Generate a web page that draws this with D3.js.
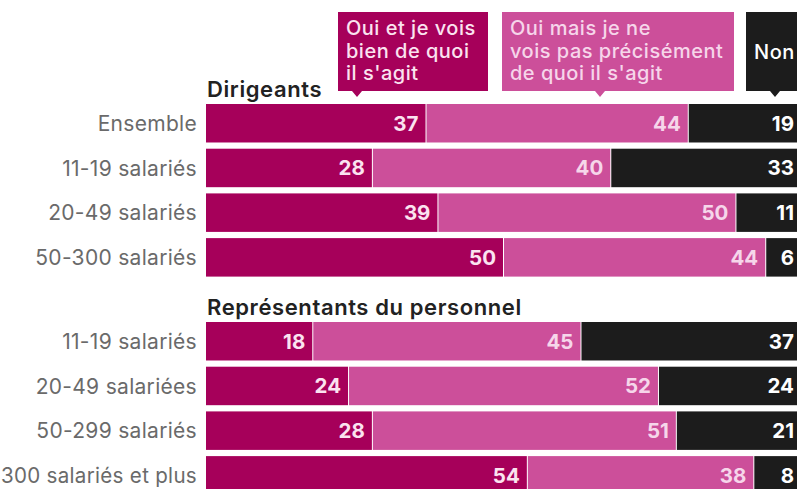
<!DOCTYPE html>
<html>
<head>
<meta charset="utf-8">
<script src="https://cdn.jsdelivr.net/npm/d3@7"></script>
<style>
  html, body { margin: 0; padding: 0; background: #ffffff; }
  svg { display: block; font-family: Inter, "Noto Sans", sans-serif; }
</style>
</head>
<body>
<svg id="chart" width="797" height="489"></svg>
<script>
// Answer categories
const answers = ["Oui et je vois bien de quoi il s'agit", "Oui mais je ne vois pas précisément de quoi il s'agit", "Non"];
const legendLines = [
  ["Oui et je vois", "bien de quoi", "il s'agit"],
  ["Oui mais je ne", "vois pas précisément", "de quoi il s'agit"],
  ["Non"]
];

// Dirigeants
const groupTitle1 = "Dirigeants";
const rows1 = ["Ensemble", "11-19 salariés", "20-49 salariés", "50-300 salariés"];
const oui1  = [37, 28, 39, 50];
const mais1 = [44, 40, 50, 44];
const non1  = [19, 33, 11, 6];

// Représentants du personnel
const groupTitle2 = "Représentants du personnel";
const rows2 = ["11-19 salariés", "20-49 salariées", "50-299 salariés", "300 salariés et plus"];
const oui2  = [18, 24, 28, 54];
const mais2 = [45, 52, 51, 38];
const non2  = [37, 24, 21, 8];

const colors = ["#a6005a", "#cc4f9a", "#1c1c1c"];
const labelColors = ["#fbe3f0", "#f6d6ea", "#ffffff"];

const svg = d3.select("#chart");
const x = d3.scaleLinear().domain([0, 100]).range([206, 802]);

function drawGroup(title, rows, series, top) {
  const y = d3.scaleBand()
    .domain(rows)
    .range([top, top + 3 * 44.7 + 38.5])
    .paddingInner(0.139)
    .paddingOuter(0);

  svg.append("text")
    .attr("x", x(0) + 1)
    .attr("y", top - 7)
    .attr("font-size", 22)
    .attr("font-weight", 600)
    .attr("letter-spacing", 0.6)
    .attr("fill", "#222")
    .text(title);

  const stacked = rows.map((r, i) => {
    let acc = 0;
    return series.map((s, k) => {
      const d = { row: r, k, v: s[i], x0: acc, x1: acc + s[i] };
      acc += s[i];
      return d;
    });
  });

  const g = svg.append("g");
  const rowG = g.selectAll("g.row").data(stacked).join("g").attr("class", "row");

  rowG.selectAll("rect").data(d => d).join("rect")
    .attr("x", d => x(d.x0))
    .attr("y", d => y(d.row))
    .attr("width", d => Math.max(0, x(d.x1) - x(d.x0) - (d.k < 2 ? 1 : 0)))
    .attr("height", y.bandwidth())
    .attr("fill", d => colors[d.k]);

  rowG.selectAll("text.val").data(d => d).join("text")
    .attr("class", "val")
    .attr("x", d => Math.min(x(d.x1), 802) - 8)
    .attr("y", d => y(d.row) + y.bandwidth() / 2)
    .attr("dy", "0.36em")
    .attr("text-anchor", "end")
    .attr("font-size", 20.5)
    .attr("font-weight", 700)
    .attr("fill", d => labelColors[d.k])
    .text(d => d.v);

  const cats = g.selectAll("text.cat").data(rows).join("text")
    .attr("class", "cat")
    .attr("x", 197)
    .attr("y", d => y(d) + y.bandwidth() / 2)
    .attr("dy", "0.36em")
    .attr("text-anchor", "end")
    .attr("font-size", 21)
    .attr("font-weight", 400)
    .attr("letter-spacing", 0.3)
    .attr("fill", "#6a6a6a")
    .text(d => d);

  // keep long category names inside the left margin
  cats.each(function () {
    if (this.getComputedTextLength() > 196) {
      d3.select(this).attr("textLength", 196).attr("lengthAdjust", "spacingAndGlyphs");
    }
  });
}

drawGroup(groupTitle1, rows1, [oui1, mais1, non1], 104);
drawGroup(groupTitle2, rows2, [oui2, mais2, non2], 322);

// Legend callouts above the bars
const legendBoxes = [
  { x0: 338, x1: 488, tip: 357 },
  { x0: 502, x1: 734, tip: 600 },
  { x0: 746, x1: 810, tip: 775 }
];
const boxTop = 12, boxBottom = 91;
const lg = svg.append("g");
legendBoxes.forEach((b, i) => {
  lg.append("path")
    .attr("d", `M${b.x0},${boxTop}H${b.x1}V${boxBottom}H${b.tip + 5}L${b.tip},${boxBottom + 6}L${b.tip - 5},${boxBottom}H${b.x0}Z`)
    .attr("fill", colors[i]);
  const lines = legendLines[i];
  const t = lg.append("text")
    .attr("font-size", 20)
    .attr("font-weight", 500)
    .attr("letter-spacing", 0.5)
    .attr("fill", labelColors[i])
    .attr("aria-label", answers[i]);
  if (lines.length === 1) {
    t.append("tspan").attr("x", b.x0 + 8).attr("y", 59).text(lines[0]);
  } else {
    lines.forEach((ln, j) => {
      t.append("tspan").attr("x", b.x0 + 8).attr("y", 35 + j * 22.5).text(ln);
    });
  }
});
</script>
</body>
</html>
